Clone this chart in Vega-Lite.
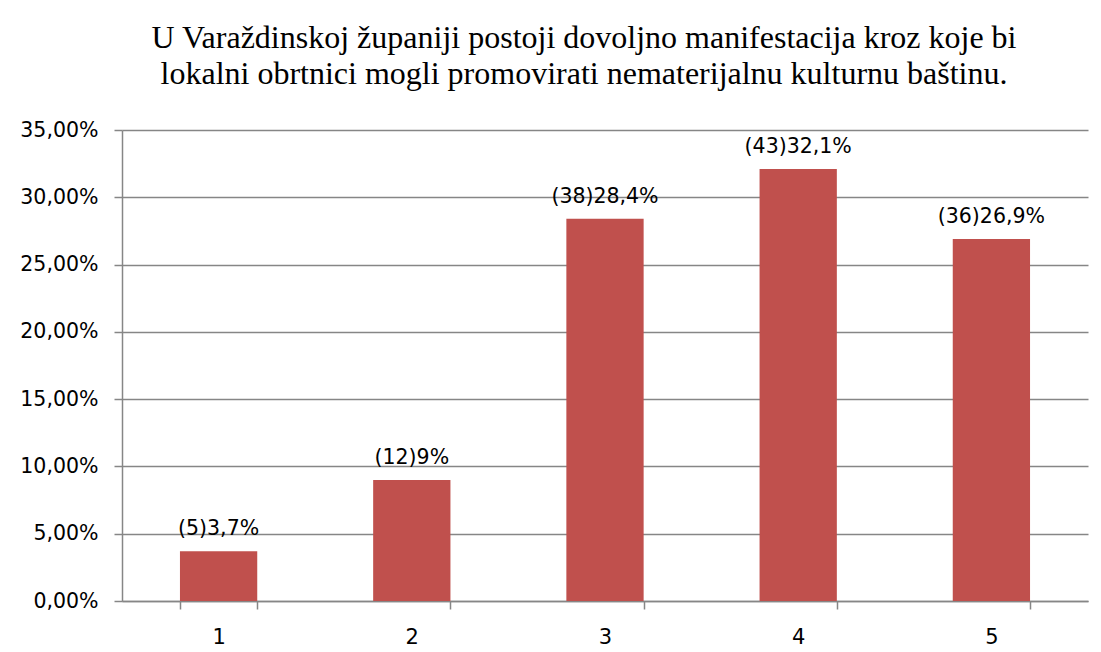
{
  "$schema": "https://vega.github.io/schema/vega-lite/v6.json",
  "width": 966,
  "height": 471,
  "autosize": {"type": "none"},
  "padding": {"left": 122, "top": 130, "right": 13, "bottom": 51},
  "background": "white",
  "title": {
    "text": ["U Varaždinskoj županiji postoji dovoljno manifestacija kroz koje bi", "lokalni obrtnici mogli promovirati nematerijalnu kulturnu baštinu."],
    "font": "Liberation Serif",
    "fontSize": 32,
    "fontWeight": "normal",
    "color": "black",
    "lineHeight": 36,
    "anchor": "middle",
    "frame": "group",
    "offset": 29,
    "dx": -21
  },
  "data": {
    "values": [
      {"ocjena": "1", "udio": 0.037, "oznaka": "(5)3,7%"},
      {"ocjena": "2", "udio": 0.09, "oznaka": "(12)9%"},
      {"ocjena": "3", "udio": 0.284, "oznaka": "(38)28,4%"},
      {"ocjena": "4", "udio": 0.321, "oznaka": "(43)32,1%"},
      {"ocjena": "5", "udio": 0.269, "oznaka": "(36)26,9%"}
    ]
  },
  "encoding": {
    "x": {
      "field": "ocjena",
      "type": "nominal",
      "scale": {"paddingInner": 0.6, "paddingOuter": 0.3},
      "axis": {
        "title": null,
        "labelAngle": 0,
        "labelFont": "DejaVu Sans",
        "labelFontSize": 21,
        "labelColor": "black",
        "labelPadding": 17,
        "tickBand": "extent",
        "tickSize": 8,
        "tickColor": "#868686",
        "domainColor": "#868686",
        "domainWidth": 1.5,
        "tickWidth": 1.5,
        "grid": false
      }
    },
    "y": {
      "field": "udio",
      "type": "quantitative",
      "scale": {"domain": [0, 0.35], "nice": false},
      "axis": {
        "title": null,
        "values": [0, 0.05, 0.1, 0.15, 0.2, 0.25, 0.3, 0.35],
        "labelExpr": "replace(format(datum.value, '.2%'), '.', ',')",
        "labelFont": "DejaVu Sans",
        "labelFontSize": 20.5,
        "labelColor": "black",
        "labelPadding": 16,
        "tickSize": 8,
        "tickColor": "#868686",
        "tickWidth": 1.5,
        "domainColor": "#868686",
        "domainWidth": 1.5,
        "grid": true,
        "gridColor": "#868686",
        "gridWidth": 1.5
      }
    }
  },
  "layer": [
    {"mark": {"type": "bar", "color": "#C0504D"}},
    {
      "mark": {"type": "text", "baseline": "bottom", "dy": -12, "font": "DejaVu Sans", "fontSize": 20.5, "color": "black"},
      "encoding": {"text": {"field": "oznaka"}}
    }
  ],
  "config": {"view": {"stroke": null}}
}
